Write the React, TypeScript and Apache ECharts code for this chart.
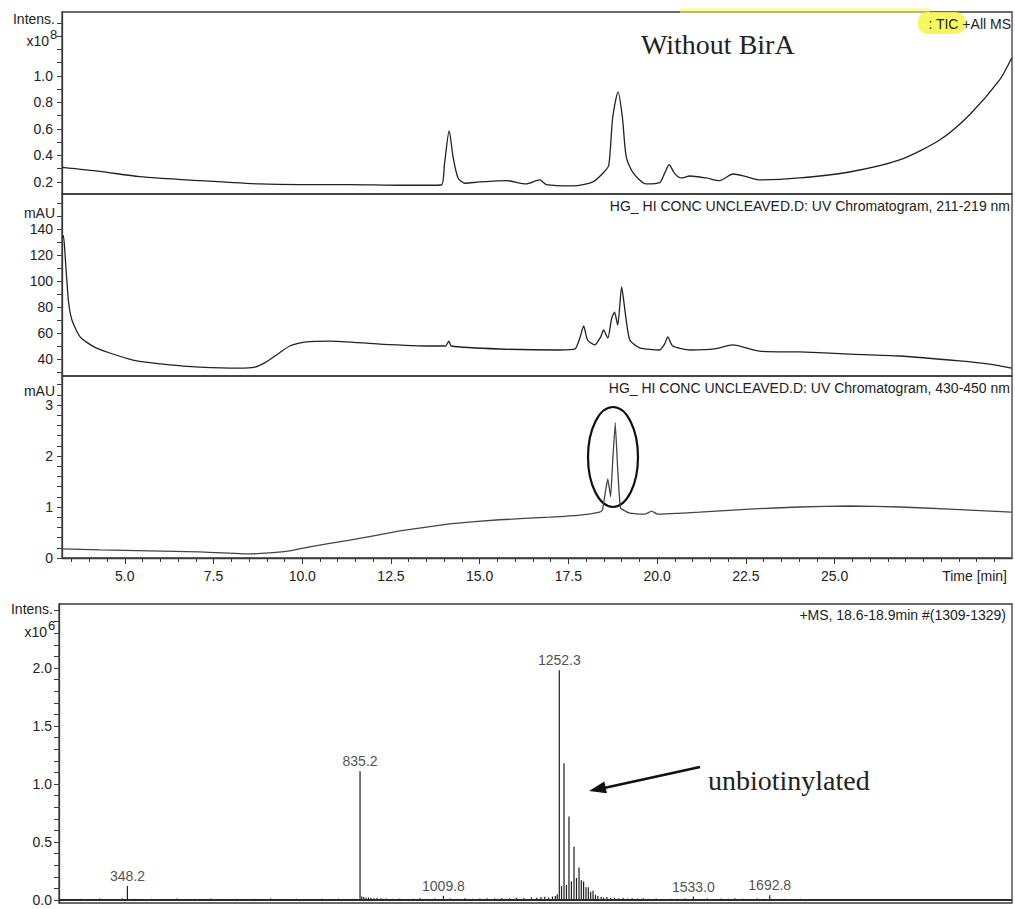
import React, { useEffect, useRef } from 'react';
import * as echarts from 'echarts';

// ---------- axis ticks / labels ----------
const timeLabels = [5, 7.5, 10, 12.5, 15, 17.5, 20, 22.5, 25];
const ticLabels = [0.2, 0.4, 0.6, 0.8, 1.0];
const uv214Labels = [40, 60, 80, 100, 120, 140];
const uv440Labels = [0, 1, 2, 3];
const msIntLabels = [0.0, 0.5, 1.0, 1.5, 2.0];

const range = (a: number, b: number, s: number) => {
  const out: number[] = [];
  for (let v = a; v <= b + 1e-9; v += s) out.push(Math.round(v * 1000) / 1000);
  return out;
};
const timeMinorTicks = range(3.5, 29.5, 0.5);
const ticTicks = range(0.2, 1.4, 0.1);
const uv214Ticks = range(30, 160, 10);
const uv440Ticks = range(0, 3.4, 0.2);
const msTicks = range(0, 2.5, 0.1);

// ---------- data: TIC (x10^8) vs time [min] ----------
const ticTrace: [number, number][] = [
  [3.23, 0.31], [4.3, 0.28], [5.42, 0.24], [7.11, 0.21], [8.8, 0.185], [9.93, 0.18],
  [11.34, 0.18], [12.75, 0.175], [13.5, 0.175], [13.92, 0.177], [14.01, 0.34], [14.14, 0.585],
  [14.25, 0.39], [14.39, 0.23], [14.58, 0.19], [15.0, 0.2], [15.75, 0.21], [16.31, 0.185],
  [16.69, 0.215], [16.88, 0.18], [17.63, 0.17], [18.19, 0.2], [18.52, 0.28], [18.64, 0.33],
  [18.75, 0.69], [18.9, 0.88], [19.02, 0.69], [19.13, 0.39], [19.32, 0.27], [19.69, 0.185],
  [20.07, 0.195], [20.21, 0.265], [20.34, 0.33], [20.49, 0.265], [20.68, 0.23], [20.92, 0.245],
  [21.38, 0.23], [21.76, 0.21], [22.14, 0.26], [22.51, 0.24], [22.89, 0.215], [24.01, 0.23],
  [25.42, 0.275], [26.83, 0.366], [27.96, 0.517], [28.8, 0.706], [29.65, 0.97], [29.99, 1.136],
];

// ---------- data: UV 211-219 nm (mAU) ----------
const uv214Trace: [number, number][] = [
  [3.23, 133], [3.27, 135], [3.32, 118.7], [3.41, 85], [3.51, 70], [3.74, 57], [4.12, 49.5],
  [4.58, 44.6], [5.23, 39.2], [6.27, 35.4], [7.11, 33.8], [8.24, 33], [8.66, 33.8], [8.94, 37],
  [9.23, 42.3], [9.65, 50], [10.07, 53], [10.77, 53.8], [12.18, 51.5], [13.59, 50], [14.04, 50],
  [14.13, 53.8], [14.2, 50], [15.56, 47.7], [17.25, 46.9], [17.68, 47.5], [17.82, 56], [17.93, 65.4],
  [18.04, 54.6], [18.24, 50.8], [18.41, 57], [18.49, 62.3], [18.61, 56], [18.72, 71.5], [18.8, 76],
  [18.89, 66], [19.0, 95.4], [19.11, 73.8], [19.23, 54.6], [19.51, 48.5], [20.07, 46.9], [20.21, 51.5],
  [20.3, 57], [20.44, 50], [20.92, 46.9], [21.62, 47.7], [22.13, 50.8], [22.89, 46], [24.01, 45.4],
  [25.42, 43.8], [26.83, 42.3], [28.52, 38.5], [29.37, 36], [29.99, 33],
];

// ---------- data: UV 430-450 nm (mAU) ----------
const uv440Trace: [number, number][] = [
  [3.23, 0.18], [4.3, 0.16], [5.7, 0.14], [7.11, 0.12], [8.52, 0.08], [9.08, 0.1], [9.65, 0.14],
  [10.21, 0.22], [11.34, 0.35], [12.75, 0.53], [14.15, 0.67], [15.56, 0.75], [16.97, 0.8],
  [17.82, 0.84], [18.38, 0.9], [18.46, 0.94], [18.55, 1.33], [18.61, 1.55], [18.69, 1.2],
  [18.75, 1.92], [18.82, 2.65], [18.89, 1.73], [18.97, 0.98], [19.23, 0.88], [19.65, 0.86],
  [19.85, 0.92], [20.01, 0.86], [21.2, 0.9], [22.6, 0.96], [24.01, 1.0], [25.42, 1.02],
  [26.83, 1.0], [28.24, 0.96], [29.99, 0.9],
];

// ---------- data: MS spectrum (m/z, intensity x10^6) ----------
const msPeaks: [number, number][] = [
  [215, 0.008], [232, 0.006], [251, 0.01], [268, 0.007], [290, 0.012], [305, 0.008], [322, 0.009],
  [337, 0.015], [348.2, 0.12], [362, 0.01], [381, 0.008], [399, 0.011], [418, 0.007], [437, 0.009],
  [452, 0.012], [470, 0.006], [489, 0.01], [507, 0.008], [523, 0.013], [541, 0.007], [560, 0.009],
  [578, 0.011], [596, 0.006], [613, 0.01], [631, 0.008], [648, 0.012], [667, 0.007], [684, 0.009],
  [702, 0.011], [719, 0.008], [737, 0.006], [755, 0.01], [772, 0.009], [790, 0.012], [808, 0.008],
  [822, 0.01], [835.2, 1.11], [839, 0.03], [843, 0.025], [848, 0.02], [853, 0.022], [858, 0.018],
  [864, 0.015], [871, 0.02], [879, 0.014], [890, 0.012], [903, 0.01], [918, 0.012], [932, 0.009],
  [947, 0.011], [961, 0.014], [976, 0.01], [992, 0.012], [1009.8, 0.035], [1024, 0.012], [1040, 0.01],
  [1055, 0.014], [1071, 0.011], [1086, 0.013], [1101, 0.016], [1117, 0.012], [1132, 0.018],
  [1148, 0.015], [1163, 0.02], [1178, 0.017], [1194, 0.022], [1205, 0.02], [1214, 0.025],
  [1222, 0.028], [1230, 0.022], [1238, 0.03], [1244, 0.035], [1248, 0.05],
  [1252.3, 1.98], [1257.0, 0.12], [1262.2, 1.18], [1267.3, 0.13], [1272.6, 0.72], [1277.7, 0.16],
  [1283.1, 0.46], [1288.3, 0.19], [1293.6, 0.28], [1298.4, 0.17], [1303.2, 0.16], [1308.2, 0.11],
  [1313.1, 0.11], [1318.0, 0.07], [1322.9, 0.08], [1328, 0.045], [1333, 0.035], [1340, 0.025],
  [1345, 0.02], [1352, 0.025], [1360, 0.018], [1368, 0.02], [1377, 0.015], [1386, 0.018],
  [1395, 0.013], [1405, 0.016], [1416, 0.012], [1428, 0.014], [1441, 0.01], [1455, 0.012],
  [1470, 0.009], [1486, 0.011], [1500, 0.01], [1516, 0.012], [1533.0, 0.03], [1548, 0.01],
  [1562, 0.013], [1577, 0.009], [1591, 0.012], [1606, 0.01], [1620, 0.015], [1636, 0.011],
  [1651, 0.009], [1666, 0.012], [1680, 0.01], [1692.8, 0.04], [1708, 0.009], [1723, 0.011],
  [1740, 0.008], [1757, 0.01], [1774, 0.007], [1791, 0.009], [1808, 0.008], [1826, 0.006],
  [1845, 0.008], [1863, 0.007], [1882, 0.009], [1900, 0.006], [1920, 0.008], [1940, 0.007],
  [1960, 0.006], [1980, 0.008], [2000, 0.006], [2020, 0.007], [2040, 0.006], [2060, 0.008],
  [2080, 0.005], [2100, 0.007], [2120, 0.006], [2140, 0.005], [2160, 0.007], [2180, 0.006],
];
const msLabeledPeaks: [number, number][] = [
  [348.2, 0.12], [835.2, 1.11], [1009.8, 0.035], [1252.3, 1.98], [1533.0, 0.03], [1692.8, 0.04],
];

const SANS = '"Liberation Sans", Arial, sans-serif';
const SERIF = '"Liberation Serif", "Times New Roman", serif';
const INK = '#222';

const txt = (text: string, x: number, y: number, align: string, size = 14, family = SANS) => ({
  type: 'text', x, y, silent: true,
  style: { text, align, verticalAlign: 'middle', fontSize: size, fontFamily: family, fill: INK },
});

export default function App() {
  const ref = useRef<HTMLDivElement>(null);
  useEffect(() => {
    if (!ref.current) return;
    const chart = echarts.init(ref.current, null, { renderer: 'svg' });
    const gridBox = { show: true, borderColor: '#3a3a3a', borderWidth: 1.3, backgroundColor: 'transparent' };
    const hiddenX = (gi: number) => ({
      gridIndex: gi, type: 'value', min: 3.23, max: 30.0,
      axisLine: { show: false }, axisTick: { show: false }, axisLabel: { show: false }, splitLine: { show: false },
    });
    const yAx = (gi: number, min: number, max: number, ticks: number[], labels: number[], dec: number, margin = 9) => ({
      gridIndex: gi, type: 'value', min, max,
      axisLine: { show: true, lineStyle: { color: '#3a3a3a', width: 1.3 } },
      axisTick: { show: true, length: 5, customValues: ticks, lineStyle: { color: '#3a3a3a' } },
      axisLabel: { show: true, customValues: labels, formatter: (v: number) => v.toFixed(dec), fontSize: 14, color: INK, fontFamily: SANS, margin },
      splitLine: { show: false },
    });
    const line = (xi: number, yi: number, data: [number, number][], color: string, smooth: number) => ({
      type: 'line', xAxisIndex: xi, yAxisIndex: yi, data, symbol: 'none', showSymbol: false,
      smooth, lineStyle: { color, width: 1.3 }, silent: true,
    });

    const option: any = {
      animation: false,
      backgroundColor: '#fff',
      textStyle: { fontFamily: SANS },
      grid: [
        { left: 62, right: 3, top: 12, height: 182, ...gridBox },
        { left: 62, right: 3, top: 194, height: 182, ...gridBox },
        { left: 62, right: 3, top: 376, height: 182, ...gridBox },
        { left: 59, right: 3, top: 604, height: 299, ...gridBox },
      ],
      xAxis: [
        hiddenX(0),
        hiddenX(1),
        {
          gridIndex: 2, type: 'value', min: 3.23, max: 30.0, position: 'bottom',
          axisLine: { show: true, lineStyle: { color: '#3a3a3a', width: 1.3 } },
          axisTick: { show: true, length: 6, customValues: timeLabels, lineStyle: { color: '#3a3a3a' } },
          axisLabel: { show: true, customValues: timeLabels, formatter: (v: number) => v.toFixed(1), fontSize: 14, color: INK, fontFamily: SANS, margin: 11 },
          splitLine: { show: false },
        },
        {
          gridIndex: 2, type: 'value', min: 3.23, max: 30.0, position: 'bottom', offset: 0,
          axisLine: { show: false },
          axisTick: { show: true, length: 4, customValues: timeMinorTicks, lineStyle: { color: '#3a3a3a' } },
          axisLabel: { show: false }, splitLine: { show: false },
        },
        {
          gridIndex: 3, type: 'value', min: 205, max: 2200,
          axisLine: { show: false }, axisTick: { show: false }, axisLabel: { show: false }, splitLine: { show: false },
        },
      ],
      yAxis: [
        yAx(0, 0.109, 1.483, ticTicks, ticLabels, 1),
        yAx(1, 26.9, 167, uv214Ticks, uv214Labels, 0),
        yAx(2, 0, 3.57, uv440Ticks, uv440Labels, 0),
        yAx(3, -0.026, 2.552, msTicks, msIntLabels, 1, 7),
      ],
      series: [
        line(0, 0, ticTrace, '#222', 0.25),
        line(1, 1, uv214Trace, '#222', 0.2),
        line(2, 2, uv440Trace, '#444', 0.1),
        {
          type: 'custom', xAxisIndex: 4, yAxisIndex: 3, data: msPeaks, silent: true,
          encode: { x: 0, y: 1 },
          renderItem: (params: any, api: any) => {
            const mz = api.value(0);
            const h = api.value(1);
            const p0 = api.coord([mz, 0]);
            const p1 = api.coord([mz, h]);
            return {
              type: 'line',
              shape: { x1: p0[0], y1: p0[1], x2: p1[0], y2: p1[1] },
              style: { stroke: '#1e1e1e', lineWidth: 1.2 },
            };
          },
          markLine: {
            silent: true, symbol: 'none', label: { show: false },
            lineStyle: { color: '#2a2a2a', width: 2.2, type: 'solid' },
            data: [{ yAxis: 0 }],
          },
        },
        {
          type: 'scatter', xAxisIndex: 4, yAxisIndex: 3, data: msLabeledPeaks, symbolSize: 0, silent: true,
          label: {
            show: true, position: 'top', distance: 3, fontSize: 14, color: INK, fontFamily: SANS,
            formatter: (p: any) => p.value[0].toFixed(1),
          },
        },
      ],
      graphic: [
        { type: 'rect', silent: true, shape: { x: 680, y: 8, width: 250, height: 5 }, style: { fill: 'rgba(246,246,120,0.55)' } },
        { type: 'rect', silent: true, shape: { x: 918, y: 12, width: 47, height: 22, r: 9 }, style: { fill: 'rgba(246,246,70,0.85)' } },
        txt(': TIC +All MS', 1011, 24, 'right'),
        txt('Without BirA', 641, 44, 'left', 28, SERIF),
        txt('HG_ HI CONC UNCLEAVED.D: UV Chromatogram, 211-219 nm', 1010, 206, 'right'),
        txt('HG_ HI CONC UNCLEAVED.D: UV Chromatogram, 430-450 nm', 1010, 388, 'right'),
        txt('Time [min]', 1007, 576, 'right'),
        txt('Intens.', 55, 19, 'right'),
        txt('x10', 49, 41, 'right'),
        txt('8', 50, 34, 'left', 13),
        txt('mAU', 55, 213, 'right'),
        txt('mAU', 55, 391, 'right'),
        txt('Intens.', 53, 609, 'right'),
        txt('x10', 47, 632, 'right'),
        txt('6', 48, 625, 'left', 13),
        txt('+MS, 18.6-18.9min #(1309-1329)', 1006, 615, 'right'),
        txt('unbiotinylated', 708, 780, 'left', 28, SERIF),
        { type: 'line', silent: true, shape: { x1: 700, y1: 767, x2: 604, y2: 788 }, style: { stroke: '#111', lineWidth: 2.5 } },
        { type: 'polygon', silent: true, shape: { points: [[589, 791], [606.9, 793.3], [604.3, 781.5]] }, style: { fill: '#111' } },
        { type: 'ellipse', silent: true, shape: { cx: 613, cy: 457, rx: 25, ry: 50 }, style: { fill: 'none', stroke: '#111', lineWidth: 2.2 } },
      ],
    };
    chart.setOption(option);
    return () => chart.dispose();
  }, []);
  return <div ref={ref} style={{ position: 'absolute', left: 0, top: 0, width: 1015, height: 909, background: '#fff' }} />;
}
